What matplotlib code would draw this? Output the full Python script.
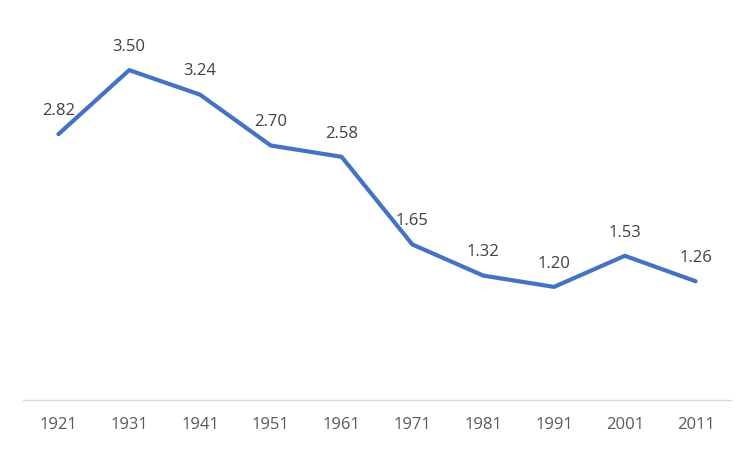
import matplotlib.pyplot as plt

years = ['1921', '1931', '1941', '1951', '1961', '1971', '1981', '1991', '2001', '2011']
values = [2.82, 3.50, 3.24, 2.70, 2.58, 1.65, 1.32, 1.20, 1.53, 1.26]

plt.rcParams['font.family'] = ['Open Sans', 'DejaVu Sans']

fig = plt.figure(figsize=(7.5, 4.49), dpi=100)
ax = fig.add_axes([23 / 750, 49 / 449, 708 / 750, 377 / 449])

x = list(range(len(years)))
ax.plot(x, values, color='#4472C4', linewidth=3.0, solid_joinstyle='round', solid_capstyle='round')

for xi, v in zip(x, values):
    ax.annotate(f'{v:.2f}', (xi, v), xytext=(0, 11), textcoords='offset points',
                ha='center', va='bottom', fontsize=12, color='#404040')

ax.set_xlim(-0.5, len(years) - 0.5)
ax.set_ylim(0, 4)
ax.set_xticks(x)
ax.set_xticklabels(years, fontsize=12, color='#595959')
ax.set_yticks([])
ax.tick_params(axis='x', length=0, pad=12)

for side in ['top', 'left', 'right']:
    ax.spines[side].set_visible(False)
ax.spines['bottom'].set_color('#D9D9D9')
ax.spines['bottom'].set_linewidth(1)

fig.savefig('out.png', dpi=100)
